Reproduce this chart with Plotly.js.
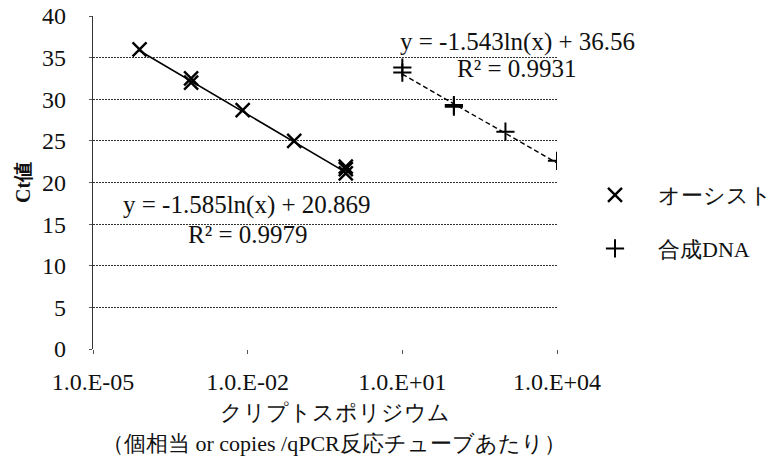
<!DOCTYPE html>
<html><head><meta charset="utf-8">
<script src="https://cdn.plot.ly/plotly-3.0.1.min.js"></script>
<style>html,body{margin:0;padding:0;background:#fff}#c{width:776px;height:468px}</style>
</head><body><div id="c"></div>
<script>
const oocystX = [8e-5, 8e-4, 8e-4, 8e-3, 8e-2, 8e-1, 8e-1, 8e-1];
const oocystCt = [36.0, 32.0, 32.5, 28.7, 25.0, 21.9, 21.6, 21.1];
const dnaX = [10, 10, 100, 100, 1000, 10000];
const dnaCt = [33.8, 33.2, 29.1, 29.3, 26.1, 22.6];
const oocystFit = {a: -1.585, b: '20.869', r2: '0.9979'};
const dnaFit = {a: -1.543, b: '36.56', r2: '0.9931'};
const xTickVals = [1e-5, 1e-2, 1e1, 1e4];
const xTickText = ['1.0.E-05', '1.0.E-02', '1.0.E+01', '1.0.E+04'];
const seriesNames = ['オーシスト', '合成DNA'];

function fitLine(xs, f){
  const lo = Math.min(...xs), hi = Math.max(...xs), b = parseFloat(f.b);
  return {x:[lo, hi], y:[f.a*Math.log(lo)+b, f.a*Math.log(hi)+b]};
}
const l1 = fitLine(oocystX, oocystFit), l2 = fitLine(dnaX, dnaFit);
const serif = 'Times New Roman';
const ink = '#111';

const traces = [
  {x:l1.x, y:l1.y, mode:'lines', line:{color:'#000', width:1.6}, showlegend:false, hoverinfo:'skip'},
  {x:l2.x, y:l2.y, mode:'lines', line:{color:'#000', width:1.4, dash:'5px,3px'}, showlegend:false, hoverinfo:'skip'},
  {x:oocystX, y:oocystCt, mode:'markers', name:seriesNames[0], legendgroup:'a',
   marker:{symbol:'x-thin-open', size:14, color:'#000', line:{color:'#000', width:2.4}}},
  {x:dnaX, y:dnaCt, mode:'markers', name:seriesNames[1], legendgroup:'b',
   marker:{symbol:'cross-thin-open', size:13, color:'#000', line:{color:'#000', width:2}}}
];

function fmt(f){ return 'y = -' + Math.abs(f.a).toFixed(3) + 'ln(x) + ' + f.b; }
const px = x => (x-93)/464, py = y => (349-y)/333;
function ann(x, y, text, size, extra){
  return Object.assign({xref:'paper', yref:'paper', x:px(x), y:py(y), xanchor:'center', yanchor:'middle',
    text:text, showarrow:false, font:{family:serif, size:size, color:ink}}, extra||{});
}

const layout = {
  width:776, height:468,
  margin:{l:93, r:219, t:16, b:119, autoexpand:false},
  paper_bgcolor:'#fff', plot_bgcolor:'#fff',
  font:{family:serif, size:23, color:ink},
  xaxis:{type:'log', range:[-5, 4], tickmode:'array', tickvals:xTickVals, ticktext:xTickText,
    showgrid:false, zeroline:false, showline:false, ticks:'outside', ticklen:4, tickcolor:'#555',
    ticklabelstandoff:7, automargin:false, tickfont:{family:serif, size:24, color:ink}},
  yaxis:{range:[0, 40], dtick:5, showgrid:true, gridcolor:'#333', griddash:'2px,1px', gridwidth:1.2,
    zeroline:false, showline:true, linecolor:'#333', linewidth:1.2, linedash:'1px,1px', ticks:'outside', ticklen:3, tickcolor:'#555',
    ticklabelstandoff:18, automargin:false, tickfont:{family:serif, size:24, color:ink}},
  showlegend:true,
  legend:{x:px(572), xanchor:'left', y:py(222), yanchor:'middle', tracegroupgap:22, itemwidth:76,
    font:{family:serif, size:22, color:ink}, bgcolor:'rgba(0,0,0,0)'},
  annotations:[
    ann(23, 183, '<b>Ct値</b>', 20, {textangle:-90}),
    ann(247, 205, fmt(oocystFit), 25),
    ann(248, 235, 'R² = '+oocystFit.r2, 25),
    ann(517, 42, fmt(dnaFit), 25),
    ann(517, 68, 'R² = '+dnaFit.r2, 25),
    ann(335, 412, 'クリプトスポリジウム', 22),
    ann(334, 443, '（個相当 or copies /qPCR反応チューブあたり）', 22)
  ]
};
Plotly.newPlot('c', traces, layout, {displayModeBar:false, staticPlot:true});
</script></body></html>
